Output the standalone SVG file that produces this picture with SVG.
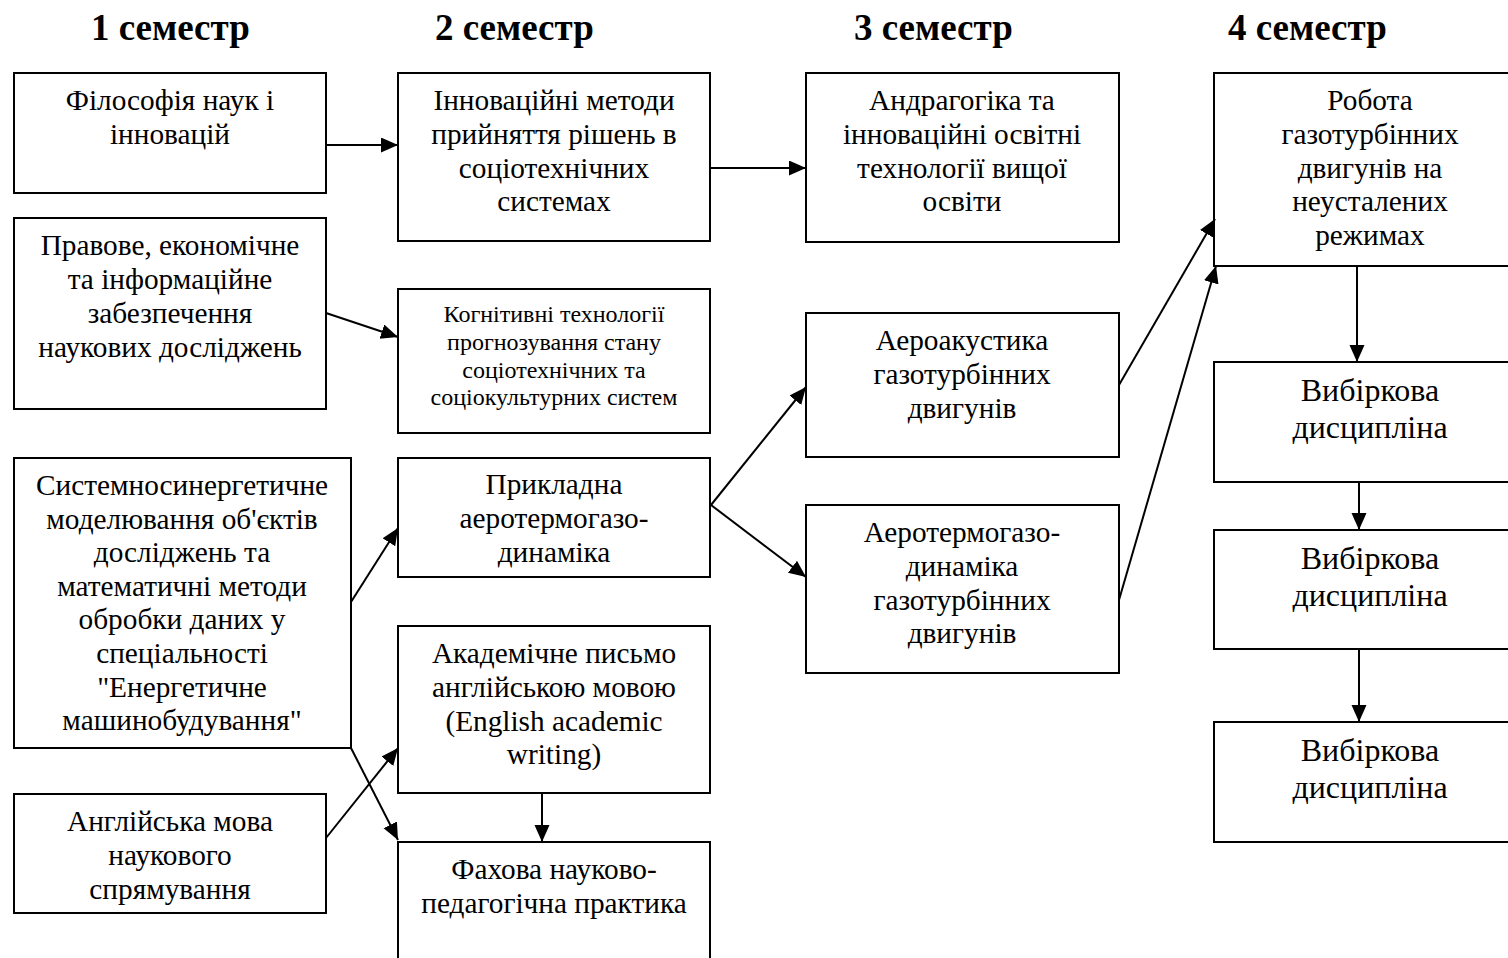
<svg xmlns="http://www.w3.org/2000/svg" width="1508" height="958" viewBox="0 0 1508 958">
<style>
.box{fill:#fff;stroke:#000;stroke-width:2}
.t{font-family:"Liberation Serif","Times New Roman",serif;font-size:29.3px;fill:#000;text-anchor:middle}
.s{font-size:24px}
.b{font-size:32px}
.h{font-family:"Liberation Serif","Times New Roman",serif;font-size:37px;font-weight:bold;fill:#000}
.c{stroke:#000;stroke-width:2;fill:none;marker-end:url(#ah)}
</style>
<defs>
<marker id="ah" markerUnits="userSpaceOnUse" markerWidth="18" markerHeight="16" refX="17" refY="7.5" orient="auto">
<path d="M0,0 L17,7.5 L0,15 z" fill="#000"/>
</marker>
</defs>
<rect width="1508" height="958" fill="#fff"/>
<g id="headers">
<text class="h" x="91" y="40">1 семестр</text>
<text class="h" x="435" y="40">2 семестр</text>
<text class="h" x="854" y="40">3 семестр</text>
<text class="h" x="1228" y="40">4 семестр</text>
</g>
<g id="n1"><rect class="box" x="14" y="73" width="312" height="120"/>
<text class="t" x="170" y="110">Філософія наук і</text><text class="t" x="170" y="144">інновацій</text></g>
<g id="n2"><rect class="box" x="14" y="218" width="312" height="191"/>
<text class="t" x="170" y="255">Правове, економічне</text><text class="t" x="170" y="289">та інформаційне</text><text class="t" x="170" y="323">забезпечення</text><text class="t" x="170" y="357">наукових досліджень</text></g>
<g id="n3"><rect class="box" x="14" y="458" width="337" height="290"/>
<text class="t" x="182" y="495">Системносинергетичне</text><text class="t" x="182" y="528.6">моделювання об'єктів</text><text class="t" x="182" y="562.2">досліджень та</text><text class="t" x="182" y="595.8">математичні методи</text><text class="t" x="182" y="629.4">обробки даних у</text><text class="t" x="182" y="663">спеціальності</text><text class="t" x="182" y="696.6">"Енергетичне</text><text class="t" x="182" y="730.2">машинобудування"</text></g>
<g id="n4"><rect class="box" x="14" y="794" width="312" height="119"/>
<text class="t" x="170" y="831">Англійська мова</text><text class="t" x="170" y="865">наукового</text><text class="t" x="170" y="899">спрямування</text></g>
<g id="n5"><rect class="box" x="398" y="73" width="312" height="168"/>
<text class="t" x="554" y="110">Інноваційні методи</text><text class="t" x="554" y="144">прийняття рішень в</text><text class="t" x="554" y="177.5">соціотехнічних</text><text class="t" x="554" y="211">системах</text></g>
<g id="n6"><rect class="box" x="398" y="289" width="312" height="144"/>
<text class="t s" x="554" y="322">Когнітивні технології</text><text class="t s" x="554" y="350">прогнозування стану</text><text class="t s" x="554" y="377.5">соціотехнічних та</text><text class="t s" x="554" y="405">соціокультурних систем</text></g>
<g id="n7"><rect class="box" x="398" y="458" width="312" height="119"/>
<text class="t" x="554" y="494">Прикладна</text><text class="t" x="554" y="528">аеротермогазо-</text><text class="t" x="554" y="562">динаміка</text></g>
<g id="n8"><rect class="box" x="398" y="626" width="312" height="167"/>
<text class="t" x="554" y="663">Академічне письмо</text><text class="t" x="554" y="697">англійською мовою</text><text class="t" x="554" y="730.5">(English academic</text><text class="t" x="554" y="764">writing)</text></g>
<g id="n9"><rect class="box" x="398" y="842" width="312" height="130"/>
<text class="t" x="554" y="879">Фахова науково-</text><text class="t" x="554" y="913">педагогічна практика</text></g>
<g id="n10"><rect class="box" x="806" y="73" width="313" height="169"/>
<text class="t" x="962" y="110">Андрагогіка та</text><text class="t" x="962" y="144">інноваційні освітні</text><text class="t" x="962" y="177.5">технології вищої</text><text class="t" x="962" y="211">освіти</text></g>
<g id="n11"><rect class="box" x="806" y="313" width="313" height="144"/>
<text class="t" x="962" y="350">Аероакустика</text><text class="t" x="962" y="384">газотурбінних</text><text class="t" x="962" y="417.5">двигунів</text></g>
<g id="n12"><rect class="box" x="806" y="505" width="313" height="168"/>
<text class="t" x="962" y="542">Аеротермогазо-</text><text class="t" x="962" y="576">динаміка</text><text class="t" x="962" y="609.5">газотурбінних</text><text class="t" x="962" y="643">двигунів</text></g>
<g id="n13"><rect class="box" x="1214" y="73" width="313" height="193"/>
<text class="t" x="1370" y="110">Робота</text><text class="t" x="1370" y="144">газотурбінних</text><text class="t" x="1370" y="177.5">двигунів на</text><text class="t" x="1370" y="211">неусталених</text><text class="t" x="1370" y="244.5">режимах</text></g>
<g id="n14"><rect class="box" x="1214" y="362" width="313" height="120"/>
<text class="t b" x="1370" y="401">Вибіркова</text><text class="t b" x="1370" y="438">дисципліна</text></g>
<g id="n15"><rect class="box" x="1214" y="530" width="313" height="119"/>
<text class="t b" x="1370" y="569">Вибіркова</text><text class="t b" x="1370" y="606">дисципліна</text></g>
<g id="n16"><rect class="box" x="1214" y="722" width="313" height="120"/>
<text class="t b" x="1370" y="761">Вибіркова</text><text class="t b" x="1370" y="798">дисципліна</text></g>
<g id="connectors">
<line class="c" x1="326" y1="145" x2="398" y2="145"/>
<line class="c" x1="326" y1="313" x2="398" y2="337"/>
<line class="c" x1="351" y1="602" x2="398" y2="528"/>
<line class="c" x1="351" y1="748" x2="398" y2="840"/>
<line class="c" x1="326" y1="838" x2="398" y2="748"/>
<line class="c" x1="542" y1="793" x2="542" y2="842"/>
<line class="c" x1="710" y1="168" x2="806" y2="168"/>
<line class="c" x1="711" y1="505" x2="806" y2="387"/>
<line class="c" x1="711" y1="505" x2="806" y2="577"/>
<line class="c" x1="1119" y1="385" x2="1215" y2="219"/>
<line class="c" x1="1119" y1="600" x2="1216" y2="266"/>
<line class="c" x1="1357" y1="266" x2="1357" y2="362"/>
<line class="c" x1="1359" y1="482" x2="1359" y2="530"/>
<line class="c" x1="1359" y1="649" x2="1359" y2="722"/>
</g>
</svg>
